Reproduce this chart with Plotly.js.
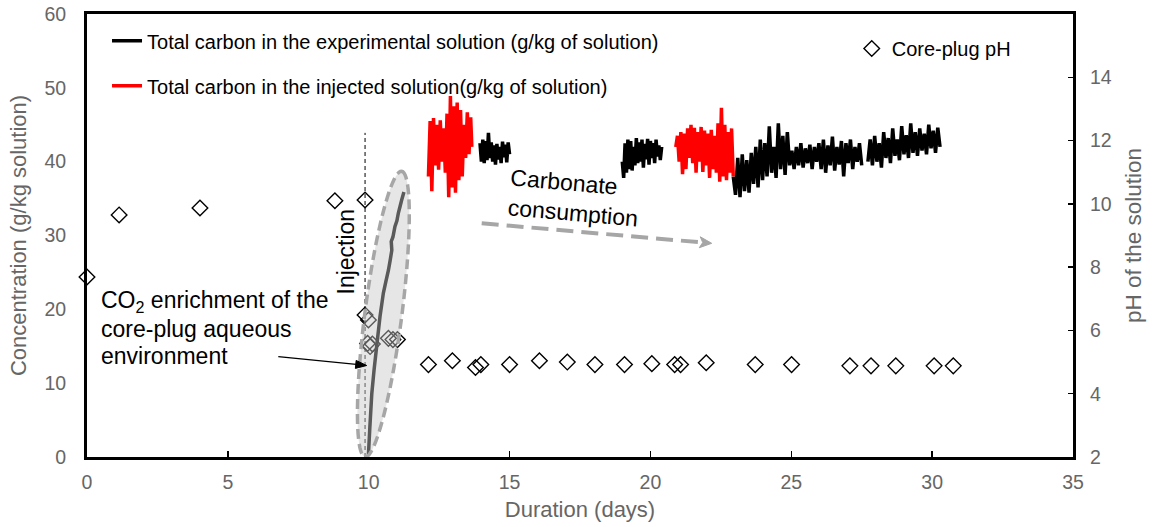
<!DOCTYPE html>
<html><head><meta charset="utf-8">
<script src="https://cdn.plot.ly/plotly-3.0.1.min.js"></script>
<style>html,body{margin:0;padding:0;background:#fff;}#chart{width:1153px;height:527px;}</style>
</head><body><div id="chart"></div>
<script>
// ---------------- data ----------------
// CO2 enrichment rise (experimental solution, inside the ellipse)
const enrichDays = [9.99,10.04,10.11,10.19,10.28,10.40,10.52,10.61,10.70,10.76,10.82,10.80,10.86,10.93,11.00,11.05,11.11,11.17,11.25];
const enrichTC   = [0.3,4.0,8.6,11.8,14.9,19.0,22.2,23.8,25.3,26.6,28.0,29.2,29.8,31.2,32.0,33.0,33.9,34.8,35.9];

// experimental solution, segment 2
const exp2Days = [13.95,14.00,14.05,14.10,14.15,14.20,14.25,14.30,14.35,14.40,14.45,14.50,14.55,14.60,14.65,14.70,14.75,14.80,14.85,14.90,14.95,15.00];
const exp2TC   = [42.5,40.0,43.0,39.8,42.8,40.2,43.9,40.5,42.6,40.0,42.2,39.6,42.4,40.3,42.0,39.8,42.7,40.6,42.3,39.9,42.6,41.0];

// experimental solution, segment 3
const exp3Days = [19.00,19.05,19.10,19.15,19.20,19.25,19.30,19.35,19.40,19.45,19.50,19.55,19.60,19.65,19.70,19.75,19.80,19.85,19.90,19.95,20.00,20.05,20.10,20.15,20.20,20.25,20.30,20.35,20.40];
const exp3TC   = [40.0,37.8,42.5,38.5,43.0,39.0,42.8,38.8,42.0,39.5,43.2,39.8,42.6,40.0,43.0,39.2,42.4,40.3,43.1,39.6,42.8,40.5,42.5,39.8,43.0,40.7,42.2,40.2,42.0];

// experimental solution, segment 4a
const exp4aDays = [22.94,23.02,23.10,23.18,23.26,23.34,23.42,23.50,23.58,23.66,23.74,23.82,23.90,23.98,24.06,24.14,24.22,24.30,24.38,24.46,24.54,24.62,24.70,24.78,24.86,24.94,25.02,25.10,25.18,25.26,25.34,25.42,25.50,25.58,25.66,25.74,25.82,25.90,25.98,26.06,26.14,26.22,26.30,26.38,26.46,26.54,26.62,26.70,26.78,26.86,26.94,27.02,27.10,27.18,27.26,27.34,27.42,27.50];
const exp4aTC   = [38.0,35.5,40.5,35.2,41.0,36.0,40.2,35.8,41.2,
                   37.0,42.0,36.5,43.0,37.5,42.5,38.0,44.8,38.5,42.0,37.8,45.2,39.0,43.5,38.2,44.0,39.5,
                   41.5,39.0,42.0,39.5,42.5,39.2,41.8,39.8,42.3,39.0,42.0,40.0,
                   42.5,39.0,43.0,38.5,42.2,39.5,43.4,38.8,42.0,39.6,42.8,38.0,42.5,39.8,43.0,39.0,42.0,40.0,42.5,39.5];

// experimental solution, segment 4b
const exp4bDays = [27.72,27.80,27.88,27.96,28.04,28.12,28.20,28.28,28.36,28.44,28.52,28.60,28.68,28.76,28.84,28.92,29.00,29.08,29.16,29.24,29.32,29.40,29.48,29.56,29.64,29.72,29.80,29.88,29.96,30.04,30.12,30.20,30.28];
const exp4bTC   = [40.0,43.0,39.5,43.5,40.0,42.5,39.2,44.0,40.5,43.2,39.8,44.5,40.8,43.0,40.2,44.8,41.0,43.6,40.5,45.2,41.2,44.0,40.8,44.5,41.5,43.8,41.0,45.0,41.8,44.2,41.2,44.6,42.0];

// injected solution, segment 1
const inj1Days = [12.12,12.18,12.24,12.30,12.36,12.42,12.48,12.54,12.60,12.66,12.72,12.78,12.84,12.90,12.96,13.02,13.08,13.14,13.20,13.26,13.32,13.38,13.44,13.50,13.56,13.62,13.66];
const inj1TC   = [38.0,45.5,36.0,45.9,39.5,45.0,38.9,45.6,40.0,44.5,38.5,46.5,35.2,48.9,36.5,47.5,35.8,48.0,37.5,47.0,38.0,45.0,40.5,46.7,41.0,46.0,42.0];

// injected solution, segment 2
const inj2Days = [20.90,20.96,21.02,21.08,21.14,21.20,21.26,21.32,21.38,21.44,21.50,21.56,21.62,21.68,21.74,21.80,21.86,21.92,21.98,22.04,22.10,22.16,22.22,22.28,22.34,22.40,22.46,22.52,22.58,22.64,22.70,22.76,22.82,22.88,22.94];
const inj2TC   = [42.0,43.5,40.0,44.0,38.3,43.8,39.0,44.5,40.5,45.0,39.8,44.6,38.5,44.0,40.0,44.7,38.6,44.2,39.5,43.8,37.8,44.3,39.0,43.5,38.5,45.2,37.3,47.3,38.0,45.0,37.5,44.0,38.5,44.5,38.0];

// core-plug pH
const phDays = [0.00,1.14,4.01,8.80,9.87,9.87,9.96,9.99,10.05,10.13,10.70,10.86,11.02,12.12,12.97,13.79,13.98,15.00,16.06,17.05,18.03,19.08,20.05,20.86,21.07,21.98,23.72,25.01,27.08,27.83,28.71,30.07,30.75];
const phVals = [7.69,9.65,9.87,10.10,10.12,6.49,5.59,6.33,5.49,5.57,5.75,5.71,5.71,4.92,5.04,4.83,4.92,4.92,5.04,5.00,4.92,4.92,4.95,4.92,4.92,4.98,4.92,4.92,4.88,4.88,4.88,4.88,4.88];

// axis ticks
const xTicks  = [0,5,10,15,20,25,30,35];
const yTicks  = [0,10,20,30,40,50,60];
const y2Ticks = [2,4,6,8,10,12,14];

// ---------------- build ----------------
function joinSegs(segs){ const out=[]; segs.forEach((s,i)=>{ if(i) out.push(null); out.push(...s); }); return out; }
const blackX = joinSegs([enrichDays, exp2Days, exp3Days, exp4aDays, exp4bDays]);
const blackY = joinSegs([enrichTC, exp2TC, exp3TC, exp4aTC, exp4bTC]);
const redX = joinSegs([inj1Days, inj2Days]);
const redY = joinSegs([inj1TC, inj2TC]);

const FONT = 'Arial, "Liberation Sans", sans-serif';
const GREY = '#666666';

// plot geometry (matches margins below)
const L=87, W=986, T=14, H=443, XR=[0,35], YR=[0,60];
const px = d => L + (d-XR[0])/(XR[1]-XR[0])*W;
const py = v => T + H - (v-YR[0])/(YR[1]-YR[0])*H;
const dx = p => XR[0] + (p-L)/W*(XR[1]-XR[0]);
const dy = p => YR[0] + (T+H-p)/H*(YR[1]-YR[0]);
const pt = (X,Y) => dx(X).toFixed(4)+','+dy(Y).toFixed(4);

function ellipsePath(tipA, tipB, halfW){
  const x0=px(tipA[0]), y0=py(tipA[1]), x1=px(tipB[0]), y1=py(tipB[1]);
  const cx=(x0+x1)/2, cy=(y0+y1)/2, len=Math.hypot(x1-x0,y1-y0), a=len/2;
  const ux=(x1-x0)/len, uy=(y1-y0)/len, vx=-uy, vy=ux;
  let s='';
  for(let i=0;i<=90;i++){
    const t=i/90*2*Math.PI;
    s+=(i?'L':'M')+pt(cx+a*Math.cos(t)*ux+halfW*Math.sin(t)*vx, cy+a*Math.cos(t)*uy+halfW*Math.sin(t)*vy);
  }
  return s+'Z';
}
// arrow head (in pixels) pointing from 'from' to 'tip'
function headPath(from, tip, len, halfW, notch){
  const ddx=tip[0]-from[0], ddy=tip[1]-from[1], n=Math.hypot(ddx,ddy), ux=ddx/n, uy=ddy/n, vx=-uy, vy=ux;
  const bx=tip[0]-ux*len, by=tip[1]-uy*len;
  return 'M'+pt(tip[0],tip[1])+'L'+pt(bx+vx*halfW,by+vy*halfW)+'L'+pt(bx+ux*notch,by+uy*notch)+'L'+pt(bx-vx*halfW,by-vy*halfW)+'Z';
}
function shaftEnd(from, tip, back){
  const ddx=tip[0]-from[0], ddy=tip[1]-from[1], n=Math.hypot(ddx,ddy);
  return [tip[0]-ddx/n*back, tip[1]-ddy/n*back];
}

const blkFrom=[278.3,356.7], blkTip=[366.7,365.5];
const gryFrom=[481.7,223.3], gryTip=[711.7,243.3];
const blkEnd=shaftEnd(blkFrom,blkTip,8), gryEnd=shaftEnd(gryFrom,gryTip,8);

const traces = [
  {x:blackX, y:blackY, type:'scatter', mode:'lines', connectgaps:false,
   line:{color:'#000', width:3.5, simplify:false},
   name:'Total carbon in the experimental solution (g/kg of solution)', legend:'legend', hoverinfo:'skip'},
  {x:redX, y:redY, type:'scatter', mode:'lines', connectgaps:false,
   line:{color:'#ff0000', width:3.5, simplify:false},
   name:'Total carbon in the injected solution(g/kg of solution)', legend:'legend2', hoverinfo:'skip'},
  {x:phDays, y:phVals, yaxis:'y2', type:'scatter', mode:'markers', cliponaxis:false,
   marker:{symbol:'diamond-open', size:12, color:'#000', line:{width:1.4, color:'#000'}},
   name:'Core-plug pH', legend:'legend3', hoverinfo:'skip'}
];

const legBase = {xanchor:'left', yanchor:'top', bgcolor:'rgba(0,0,0,0)', borderwidth:0,
                 font:{family:FONT, size:20, color:'#000'}};

const layout = {
  width:1153, height:527,
  margin:{l:87, r:80, t:14, b:70, pad:0},
  paper_bgcolor:'#fff', plot_bgcolor:'#fff',
  font:{family:FONT, color:'#000'},
  showlegend:true,
  legend: Object.assign({x:0.0203, y:0.9835}, legBase),
  legend2: Object.assign({x:0.0203, y:0.882}, legBase),
  legend3: Object.assign({x:0.7756, y:0.966}, legBase),
  xaxis:{range:XR, tickvals:xTicks, ticks:'inside', ticklen:6, tickwidth:1.5, tickcolor:'#000',
         showline:true, linewidth:3, linecolor:'#000', mirror:true, showgrid:false, zeroline:false,
         tickfont:{family:FONT, size:19.5, color:GREY}, ticklabelstandoff:6,
         title:{text:'Duration (days)', font:{family:FONT, size:22, color:GREY}, standoff:10},
         automargin:false, fixedrange:true},
  yaxis:{range:YR, tickvals:yTicks, ticks:'', showline:true, linewidth:3, linecolor:'#000', mirror:true,
         showgrid:false, zeroline:false, tickfont:{family:FONT, size:19.5, color:GREY}, ticklabelstandoff:14,
         title:{text:'Concentration (g/kg solution)', font:{family:FONT, size:22, color:GREY}, standoff:12},
         automargin:false, fixedrange:true},
  yaxis2:{overlaying:'y', side:'right', range:[2,16], tickvals:y2Ticks, ticks:'inside', ticklen:5, tickwidth:1.5,
          tickcolor:'#000', showline:false, showgrid:false, zeroline:false,
          tickfont:{family:FONT, size:19.5, color:GREY}, ticklabelstandoff:16,
          title:{text:'pH of the solution', font:{family:FONT, size:22.5, color:GREY}, standoff:14},
          automargin:false, fixedrange:true},
  shapes:[
    // injection marker
    {type:'line', xref:'x', yref:'y', x0:9.87, x1:9.87, y0:0, y1:43.9,
     line:{color:'#000', width:1, dash:'4px,3px'}, layer:'above'},
    // CO2 enrichment ellipse
    {type:'path', xref:'x', yref:'y', path:ellipsePath([9.87,0.0],[11.17,38.7],18.5),
     fillcolor:'rgba(200,200,200,0.45)', line:{color:'#a6a6a6', width:3.5, dash:'10px,5px'}, layer:'above'},
    // black pointer arrow
    {type:'line', xref:'x', yref:'y', x0:dx(blkFrom[0]), y0:dy(blkFrom[1]), x1:dx(blkEnd[0]), y1:dy(blkEnd[1]),
     line:{color:'#000', width:1.3}, layer:'above'},
    {type:'path', xref:'x', yref:'y', path:headPath(blkFrom, blkTip, 11, 4, 0), fillcolor:'#000',
     line:{color:'#000', width:1}, layer:'above'},
    // carbonate consumption trend
    {type:'line', xref:'x', yref:'y', x0:dx(gryFrom[0]), y0:dy(gryFrom[1]), x1:dx(gryEnd[0]), y1:dy(gryEnd[1]),
     line:{color:'#a6a6a6', width:4, dash:'17px,8px'}, layer:'above'},
    {type:'path', xref:'x', yref:'y', path:headPath(gryFrom, gryTip, 12, 5.5, 3), fillcolor:'#a6a6a6',
     line:{color:'#a6a6a6', width:1}, layer:'above'}
  ],
  annotations:[
    {text:'Injection', x:dx(345.5), y:dy(252), xref:'x', yref:'y', textangle:-90, showarrow:false,
     font:{family:FONT, size:23, color:'#000'}},
    {text:'CO<sub>2</sub> enrichment of the', x:dx(99), y:dy(301), xref:'x', yref:'y', xanchor:'left', yanchor:'middle',
     showarrow:false, font:{family:FONT, size:23, color:'#000'}},
    {text:'core-plug aqueous', x:dx(99), y:dy(329), xref:'x', yref:'y', xanchor:'left', yanchor:'middle',
     showarrow:false, font:{family:FONT, size:23, color:'#000'}},
    {text:'environment', x:dx(99), y:dy(356), xref:'x', yref:'y', xanchor:'left', yanchor:'middle',
     showarrow:false, font:{family:FONT, size:23, color:'#000'}},
    {text:'Carbonate<br>consumption', x:dx(574), y:dy(198), xref:'x', yref:'y', align:'left', textangle:5,
     showarrow:false, font:{family:FONT, size:23, color:'#000'}}
  ]
};

Plotly.newPlot('chart', traces, layout, {staticPlot:true, displayModeBar:false});
</script>
</body></html>
